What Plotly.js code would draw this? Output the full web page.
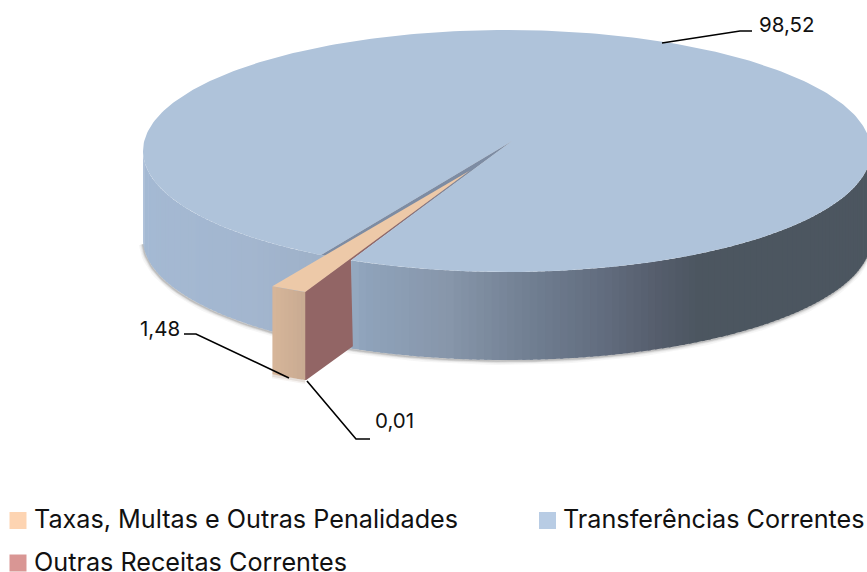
<!DOCTYPE html>
<html><head><meta charset="utf-8">
<script src="https://cdn.plot.ly/plotly-3.0.1.min.js"></script>
<style>html,body{margin:0;padding:0;background:#fff;overflow:hidden}#c{width:867px;height:572px}</style>
</head><body><div id="c"></div>
<script>
// ---- data ----
const categories = ['Taxas, Multas e Outras Penalidades', 'Transferências Correntes', 'Outras Receitas Correntes'];
const values = [1.48, 98.52, 0.01];
const legendColors = ['#fdd4b2', '#b8cce4', '#d99694'];

// ---- projection of the 3D pie onto the page ----
const cx = 507, cy = 151, rx = 364, ry = 121, depth = 88;
const firstAngle = 205.4;            // where the first slice starts, clockwise from the top
const apex = [512, 141];             // centre of the top face
const wedgeApex = [470, 170.5];      // centre of the pulled-out slice
const pull = [-30, 20.8];            // how far the slice's rim is pulled out
const grow = 1.1;                    // nearer to the viewer, so drawn slightly larger

// ---- styles ----
const topBlue = '#afc3da', notchBlue = '#7d8ca3', tanTop = '#edc9a8', redFace = '#926565';
const wallStopX = [143, 250, 345, 365, 450, 530, 600, 660, 700, 867];
const wallStopC = ['#a4b9d3', '#a3b6cf', '#9cafc6', '#8fa3bb', '#8796aa', '#717f92', '#636e80', '#555d6c', '#4c5660', '#4c5660'];
const tanStopC = ['#d6b599', '#c9ab92'];

// ---- helpers ----
const rad = d => d * Math.PI / 180;
const rim = a => [cx + rx * Math.sin(rad(a)), cy - ry * Math.cos(rad(a))];
const pulled = a => [cx + rx * grow * Math.sin(rad(a)) + pull[0], cy - ry * grow * Math.cos(rad(a)) + pull[1]];
const total = values.reduce((s, v) => s + v, 0);
const sweep = values.map(v => 360 * v / total);
const taxasStart = firstAngle, taxasEnd = taxasStart + sweep[0];
const blueEnd = taxasEnd + sweep[1];
const fmt = v => v.toFixed(2).replace('.', ',');
const hex = c => [1, 3, 5].map(i => parseInt(c.substr(i, 2), 16));
function wallColor(x) {
  let i = 0;
  while (i < wallStopX.length - 2 && x > wallStopX[i + 1]) i++;
  const t = Math.max(0, Math.min(1, (x - wallStopX[i]) / (wallStopX[i + 1] - wallStopX[i])));
  const a = hex(wallStopC[i]), b = hex(wallStopC[i + 1]);
  return 'rgb(' + a.map((v, k) => Math.round(v + (b[k] - v) * t)).join(',') + ')';
}
function arc(a0, a1, n) {
  const out = [];
  for (let i = 0; i <= n; i++) out.push(rim(a0 + (a1 - a0) * i / n));
  return out;
}
const traces = [];
function poly(pts, color) {
  traces.push({type: 'scatter', mode: 'lines', x: pts.map(p => p[0]).concat(pts[0][0]), y: pts.map(p => p[1]).concat(pts[0][1]),
    fill: 'toself', fillcolor: color, line: {width: 0, color: color}, hoverinfo: 'skip', showlegend: false});
}
function path(pts, color, width, opacity) {
  traces.push({type: 'scatter', mode: 'lines', x: pts.map(p => p[0]), y: pts.map(p => p[1]),
    line: {width: width, color: color, shape: 'linear'}, opacity: opacity === undefined ? 1 : opacity, hoverinfo: 'skip', showlegend: false});
}

// soft shadow below the disc
const lowEdge = arc(268, 92, 120).map(p => [p[0], p[1] + depth]);
[[8, .05], [5, .08], [3, .12], [1.5, .18]].forEach(s => {
  path(lowEdge.map(p => [p[0] - 0.5, p[1] + 1]), '#555555', s[0], s[1]);
});
const wedgeLow = [pulled(taxasEnd), pulled(taxasStart)].map(p => [p[0], p[1] + depth]);
[[6, .08], [3, .14]].forEach(s => path(wedgeLow.map(p => [p[0], p[1] + 1]), '#8a6a50', s[0], s[1]));

// side wall of the big slice, strip by strip
const step = 1.2;
for (let a = 270; a > 90; a -= step) {
  const p0 = rim(a), p1 = rim(a - step - 0.5);
  const xm = (p0[0] + p1[0]) / 2;
  poly([p0, p1, [p1[0], p1[1] + depth], [p0[0], p0[1] + depth]], wallColor(xm));
}

// top face of the big slice
poly([apex].concat(arc(taxasEnd, blueEnd, 360)), topBlue);
// the gap it leaves
poly([apex, rim(taxasEnd), rim(taxasStart)], notchBlue);

// cut face (smallest slice) of the pulled-out wedge
const cTop = pulled(taxasStart), lTop = pulled(taxasEnd), rs = rim(taxasStart);
poly([wedgeApex, [cTop[0] - 1, cTop[1]], [cTop[0] - 1, cTop[1] + depth], [cTop[0] + 1, cTop[1] + depth], [rs[0] + 2, rs[1] + depth - 2], rs], redFace);
// outer face of the wedge
const tanN = 8;
for (let i = 0; i < tanN; i++) {
  const a0 = taxasEnd - (taxasEnd - taxasStart) * i / tanN, a1 = taxasEnd - (taxasEnd - taxasStart) * (i + 1.15) / tanN;
  const p0 = pulled(a0), p1 = pulled(Math.max(a1, taxasStart));
  const t = i / (tanN - 1), A = hex(tanStopC[0]), B = hex(tanStopC[1]);
  poly([p0, p1, [p1[0], p1[1] + depth], [p0[0], p0[1] + depth]],
       'rgb(' + A.map((v, k) => Math.round(v + (B[k] - v) * t)).join(',') + ')');
}
// top of the wedge
poly([wedgeApex, lTop, cTop], tanTop);

// leader lines
path([[662, 43], [740, 31], [752, 31]], '#000000', 1.6);
path([[184, 334], [196, 334], [289, 378]], '#000000', 1.6);
path([[307, 381], [356, 439], [370, 439]], '#000000', 1.6);

// legend swatches
const swatchX = [18, 547.5, 18], swatchY = [520.5, 520.5, 563];
traces.push({type: 'scatter', mode: 'markers', x: swatchX, y: swatchY, text: categories,
  marker: {symbol: 'square', size: 17, color: legendColors, line: {width: 0}}, hoverinfo: 'text', showlegend: false});

const font = {family: 'Inter, "Noto Sans", sans-serif', size: 25.2, color: '#111111'};
const lblFont = {family: 'Inter, "Noto Sans", sans-serif', size: 20.5, color: '#111111'};
const txt = (x, y, t, f, anchor) => ({x: x, y: y, xref: 'x', yref: 'y', text: t, showarrow: false, xanchor: anchor || 'left', yanchor: 'middle', font: f});
const annotations = [
  txt(31.5, 519, categories[0], font), txt(560.5, 519, categories[1], font), txt(31.5, 561.5, categories[2], font),
  txt(786.5, 24, fmt(values[1]), lblFont, 'center'), txt(159.5, 328, fmt(values[0]), lblFont, 'center'), txt(394.5, 420, fmt(values[2]), lblFont, 'center')
];

Plotly.newPlot('c', traces, {
  width: 867, height: 572, margin: {l: 0, r: 0, t: 0, b: 0}, paper_bgcolor: '#fff', plot_bgcolor: '#fff', showlegend: false,
  xaxis: {range: [0, 867], visible: false, fixedrange: true},
  yaxis: {range: [572, 0], visible: false, fixedrange: true},
  annotations: annotations
}, {displayModeBar: false, staticPlot: true});
</script></body></html>
